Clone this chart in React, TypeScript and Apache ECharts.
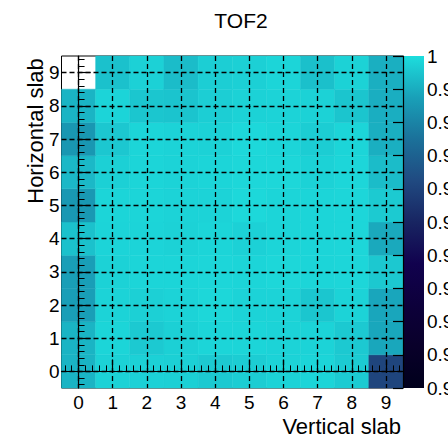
import React, { useEffect, useRef } from "react";
import * as echarts from "echarts";

// Slab indices (axis categories)
const verticalSlabs = [0, 1, 2, 3, 4, 5, 6, 7, 8, 9];
const horizontalSlabs = [0, 1, 2, 3, 4, 5, 6, 7, 8, 9];

// Efficiency per cell, one array per horizontal slab (index = vertical slab)
const row9 = [null, 0.9943, 0.9975, 0.9932, 0.997, 0.9973, 0.9984, 0.994, 0.9978, 0.9905];
const row8 = [0.9916, 0.9982, 0.9953, 0.9949, 0.997, 0.9978, 0.998, 0.9978, 0.9951, 0.9904];
const row7 = [0.9852, 0.9955, 0.9984, 0.998, 0.9978, 0.999, 0.9984, 0.9967, 0.9984, 0.9906];
const row6 = [0.9924, 0.9973, 0.9984, 0.998, 0.9984, 0.9988, 0.9988, 0.9978, 0.9986, 0.9932];
const row5 = [0.9854, 0.9984, 0.9984, 0.998, 0.998, 0.999, 0.9984, 0.9984, 0.9986, 0.9961];
const row4 = [0.9943, 0.9982, 0.9982, 0.9978, 0.9984, 0.9975, 0.9984, 0.9984, 0.9986, 0.9893];
const row3 = [0.987, 0.9978, 0.9984, 0.9984, 0.9986, 0.9984, 0.9988, 0.9984, 0.9986, 0.9957];
const row2 = [0.987, 0.998, 0.9973, 0.998, 0.9988, 0.998, 0.998, 0.9953, 0.998, 0.9887];
const row1 = [0.9916, 0.9984, 0.9959, 0.9973, 0.9984, 0.9984, 0.998, 0.998, 0.9959, 0.989];
const row0 = [0.9916, 0.9978, 0.9975, 0.9973, 0.9959, 0.9967, 0.998, 0.9984, 0.9963, 0.9608];
const rows = [row0, row1, row2, row3, row4, row5, row6, row7, row8, row9];

// Colour scale range and palette (ROOT kDeepSea)
const colorRange = [0.9, 1.0];
const colorStep = 0.01;
const palette = ["#00001c", "#09002a", "#0d003b", "#11024e", "#182562", "#204a81", "#1b719a", "#19a0b8", "#1ddddd"];

const FONT = '"Liberation Sans", Arial, sans-serif';

function minorTicks(values: number[]) {
  const out: number[] = [];
  const lo = values[0] - 0.5;
  const hi = values[values.length - 1] + 0.5;
  for (let i = values[0] - 1; i <= values[values.length - 1]; i++) {
    for (let k = 1; k <= 4; k++) {
      const v = Math.round((i + 0.2 * k) * 100) / 100;
      if (v > lo && v < hi) out.push(v);
    }
  }
  return out;
}

export default function App() {
  const ref = useRef<HTMLDivElement>(null);
  useEffect(() => {
    if (!ref.current) return;
    const chart = echarts.init(ref.current, null, { renderer: "svg" });

    const cells: number[][] = [];
    rows.forEach((r, yi) => {
      r.forEach((v, xi) => {
        if (v !== null && v !== undefined) cells.push([verticalSlabs[xi], horizontalSlabs[yi], v as number]);
      });
    });

    const xMin = verticalSlabs[0] - 0.5;
    const xMax = verticalSlabs[verticalSlabs.length - 1] + 0.5;
    const yMin = horizontalSlabs[0] - 0.5;
    const yMax = horizontalSlabs[horizontalSlabs.length - 1] + 0.5;

    const labelStyle = { color: "#000", fontFamily: FONT, fontSize: 19 };
    const dashed = { type: [5, 3] as any, width: 1.3, color: ["rgba(0,0,0,0)", "#000"] };

    const gridAxisX = {
      type: "value", gridIndex: 0, position: "bottom", min: xMin, max: xMax, interval: 0.5, z: 5,
      axisLine: { show: true, lineStyle: { color: "#000", width: 1.2 } },
      axisTick: { show: false }, axisLabel: { show: false },
      splitLine: { show: true, lineStyle: dashed },
    };
    const majorX = {
      type: "value", gridIndex: 0, position: "bottom", min: xMin, max: xMax, z: 6,
      axisLine: { show: false },
      axisTick: { show: true, inside: true, length: 12, customValues: verticalSlabs, lineStyle: { color: "#000", width: 1.2 } },
      axisLabel: { show: true, customValues: verticalSlabs, margin: 5, ...labelStyle },
      splitLine: { show: false },
    };
    const minorX = {
      type: "value", gridIndex: 0, position: "bottom", min: xMin, max: xMax, z: 6,
      axisLine: { show: false },
      axisTick: { show: true, inside: true, length: 6, customValues: minorTicks(verticalSlabs), lineStyle: { color: "#000", width: 1 } },
      axisLabel: { show: false },
      splitLine: { show: false },
    };
    const gridAxisY = {
      type: "value", gridIndex: 0, position: "left", min: yMin, max: yMax, interval: 0.5, z: 5,
      axisLine: { show: true, lineStyle: { color: "#000", width: 1.2 } },
      axisTick: { show: false }, axisLabel: { show: false },
      splitLine: { show: true, lineStyle: dashed },
    };
    const majorY = {
      type: "value", gridIndex: 0, position: "left", min: yMin, max: yMax, z: 6,
      axisLine: { show: false },
      axisTick: { show: true, inside: true, length: 12, customValues: horizontalSlabs, lineStyle: { color: "#000", width: 1.2 } },
      axisLabel: { show: true, customValues: horizontalSlabs, margin: 2, ...labelStyle },
      splitLine: { show: false },
    };
    const minorY = {
      type: "value", gridIndex: 0, position: "left", min: yMin, max: yMax, z: 6,
      axisLine: { show: false },
      axisTick: { show: true, inside: true, length: 6, customValues: minorTicks(horizontalSlabs), lineStyle: { color: "#000", width: 1 } },
      axisLabel: { show: false },
      splitLine: { show: false },
    };

    const option: any = {
      animation: false,
      backgroundColor: "#fff",
      grid: [
        { left: 61.5, top: 56, width: 341.5, height: 332, show: true, borderColor: "#000", borderWidth: 1, backgroundColor: "transparent", outerBoundsMode: "none", containLabel: false },
        { left: 403, top: 56, width: 21, height: 332, outerBoundsMode: "none", containLabel: false },
      ],
      xAxis: [
        gridAxisX, majorX, minorX,
        { type: "value", gridIndex: 1, min: 0, max: 1, show: false },
      ],
      yAxis: [
        gridAxisY, majorY, minorY,
        {
          type: "value", gridIndex: 1, position: "right", min: colorRange[0], max: colorRange[1], interval: colorStep, z: 6,
          axisLine: { show: true, lineStyle: { color: "#000", width: 1.2 } },
          axisTick: { show: true, inside: true, length: 10, lineStyle: { color: "#000", width: 1.2 } },
          axisLabel: { show: true, margin: 3, hideOverlap: false, ...labelStyle },
          splitLine: { show: false },
        },
      ],
      visualMap: {
        show: false, type: "continuous", seriesIndex: 0, dimension: 2,
        min: colorRange[0], max: colorRange[1], inRange: { color: palette },
      },
      series: [
        {
          type: "custom", xAxisIndex: 0, yAxisIndex: 0, z: 2,
          data: cells,
          renderItem: (params: any, api: any) => {
            const x = api.value(0);
            const y = api.value(1);
            const p0 = api.coord([x - 0.5, y + 0.5]);
            const p1 = api.coord([x + 0.5, y - 0.5]);
            return {
              type: "rect",
              shape: { x: p0[0], y: p0[1], width: p1[0] - p0[0], height: p1[1] - p0[1] },
              style: { fill: api.visual("color"), stroke: api.visual("color"), lineWidth: 0.5 },
            };
          },
        },
        {
          type: "custom", xAxisIndex: 3, yAxisIndex: 3, z: 2,
          data: [[0, colorRange[0], colorRange[1]]],
          renderItem: (params: any, api: any) => {
            const p0 = api.coord([0, api.value(2)]);
            const p1 = api.coord([1, api.value(1)]);
            const stops = palette.map((c, i) => ({ offset: i / (palette.length - 1), color: c }));
            return {
              type: "rect",
              shape: { x: p0[0], y: p0[1], width: p1[0] - p0[0], height: p1[1] - p0[1] },
              style: { fill: new echarts.graphic.LinearGradient(0, 1, 0, 0, stops) },
            };
          },
        },
      ],
      graphic: [
        { type: "text", x: 241, y: 20, style: { text: "TOF2", align: "center", verticalAlign: "middle", font: `21px ${FONT}`, fill: "#000" } },
        { type: "text", x: 401, y: 426, style: { text: "Vertical slab", align: "right", verticalAlign: "middle", font: `22px ${FONT}`, fill: "#000" } },
        { type: "text", x: 35, y: 131, rotation: Math.PI / 2, style: { text: "Horizontal slab", align: "center", verticalAlign: "middle", font: `22px ${FONT}`, fill: "#000" } },
      ],
    };
    chart.setOption(option);
    return () => chart.dispose();
  }, []);
  return <div ref={ref} style={{ position: "fixed", left: 0, top: 0, width: 448, height: 438 }} />;
}
